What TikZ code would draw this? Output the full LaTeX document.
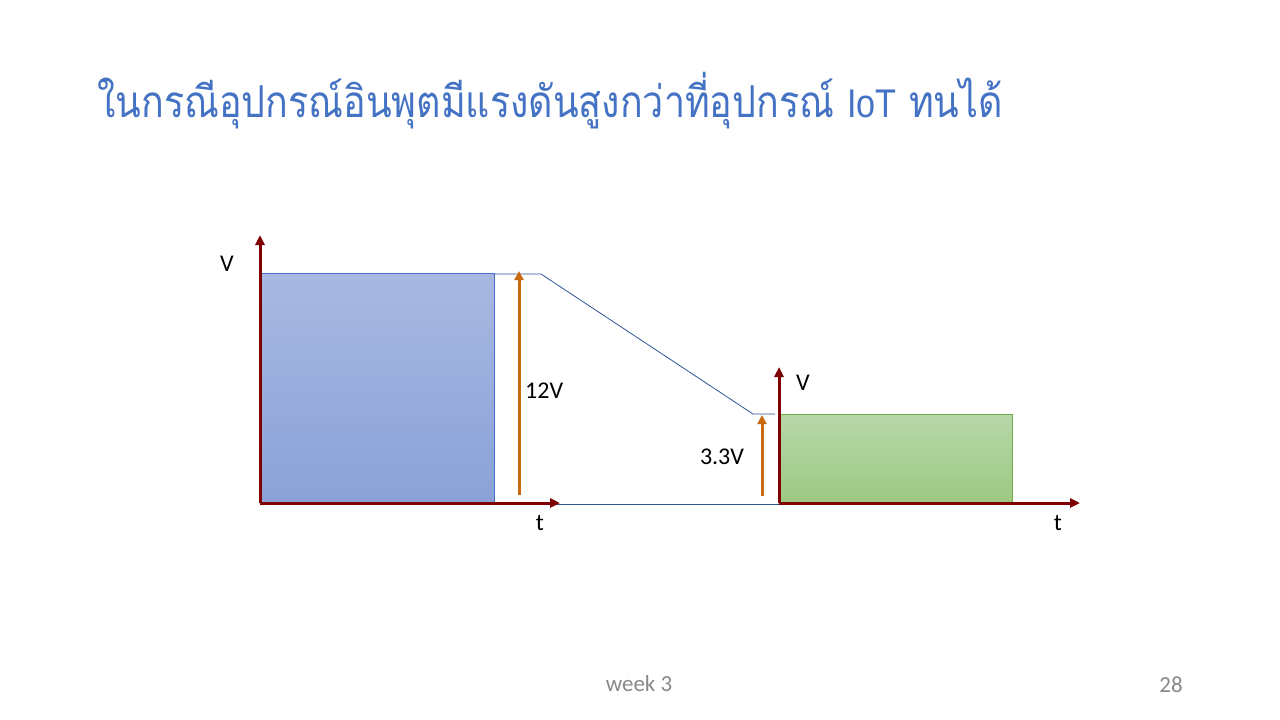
\documentclass[tikz,border=0pt]{standalone}
\usepackage{fontspec}
\setmainfont{Carlito}
\newfontfamily\thaifont[Script=Thai]{Loma}
\newfontfamily\latinsans{Liberation Sans}
\usetikzlibrary{arrows.meta}
\definecolor{axisred}{HTML}{7F0000}
\definecolor{titleblue}{HTML}{4472C4}
\definecolor{arroworange}{HTML}{C96A10}
\definecolor{blueTop}{HTML}{A9B8E1}
\definecolor{blueBot}{HTML}{8AA2D8}
\definecolor{greenTop}{HTML}{B7D7A8}
\definecolor{greenBot}{HTML}{9CC983}
\definecolor{greenEdge}{HTML}{70AD47}
\definecolor{lineblue}{HTML}{2F5597}
\definecolor{footgray}{HTML}{898989}
\tikzset{
  axis/.style={draw=axisred, line width=3pt, -{Triangle[length=10pt,width=9pt]}},
  varrow/.style={draw=arroworange, line width=3pt, -{Triangle[length=9pt,width=9pt]}},
  lbl/.style={font=\fontsize{24}{28}\selectfont, text=black, inner sep=0pt},
  wave/.style={draw=lineblue, line width=0.8pt},
  foot/.style={inner sep=0pt, text=footgray, font=\fontsize{23}{27}\selectfont},
}
\begin{document}
\begin{tikzpicture}[x=1pt,y=-1pt]
\useasboundingbox (0,0) rectangle (1280,720);
\fill[white] (0,0) rectangle (1280,720);
% title
\node[anchor=base west, inner sep=0pt, text=titleblue, font=\thaifont\fontsize{44}{52}\selectfont] (title) at (97,117) {\scalebox{0.855}[1]{ในกรณีอุปกรณ์อินพุตมีแรงดันสูงกว่าที่อุปกรณ์ {\latinsans\fontsize{40}{48}\selectfont IoT} ทนได้}};
% left rectangle
\shade[top color=blueTop, bottom color=blueBot] (260,273) rectangle (494,503);
\draw[titleblue, line width=0.8pt] (494,503) -- (494,273) -- (260,273);
% right rectangle
\shade[top color=greenTop, bottom color=greenBot] (780,414) rectangle (1012,503);
\draw[greenEdge, line width=0.8pt] (780,414) -- (1012,414) -- (1012,503);
% coordinates
\coordinate (w0) at (494,274);
\coordinate (w1) at (541,274);
\coordinate (w2) at (753,414);
\coordinate (w3) at (775,414);
\coordinate (b0) at (494,504);
\coordinate (b1) at (779,504);
\draw[wave] (w0) -- (w1) -- (w2) -- (w3);
\draw[wave] (b0) -- (b1);
% axes
\coordinate (o1) at (260,503);
\coordinate (y1) at (260,235);
\coordinate (x1) at (560,503);
\coordinate (o2) at (779,503);
\coordinate (y2) at (779,367);
\coordinate (x2) at (1080,503);
\draw[axis] (o1) -- (y1);
\draw[axis] (o1) -- (x1);
\draw[axis] (o2) -- (y2);
\draw[axis] (o2) -- (x2);
% orange arrows
\coordinate (a1s) at (519,495);
\coordinate (a1e) at (519,271);
\coordinate (a2s) at (762,496);
\coordinate (a2e) at (762,415);
\draw[varrow] (a1s) -- (a1e);
\draw[varrow] (a2s) -- (a2e);
% labels
\node[lbl] (v1) at (227,264) {V};
\node[lbl] (t1) at (540,523) {t};
\node[lbl] (v2) at (803,383) {V};
\node[lbl] (t2) at (1058,523) {t};
\node[lbl, anchor=west] (l12) at (525,391) {12V};
\node[lbl] (l33) at (722,457) {3.3V};
% footer
\node[foot] (week) at (639,684) {week 3};
\node[foot] (page) at (1171,685) {28};
\end{tikzpicture}
\end{document}
